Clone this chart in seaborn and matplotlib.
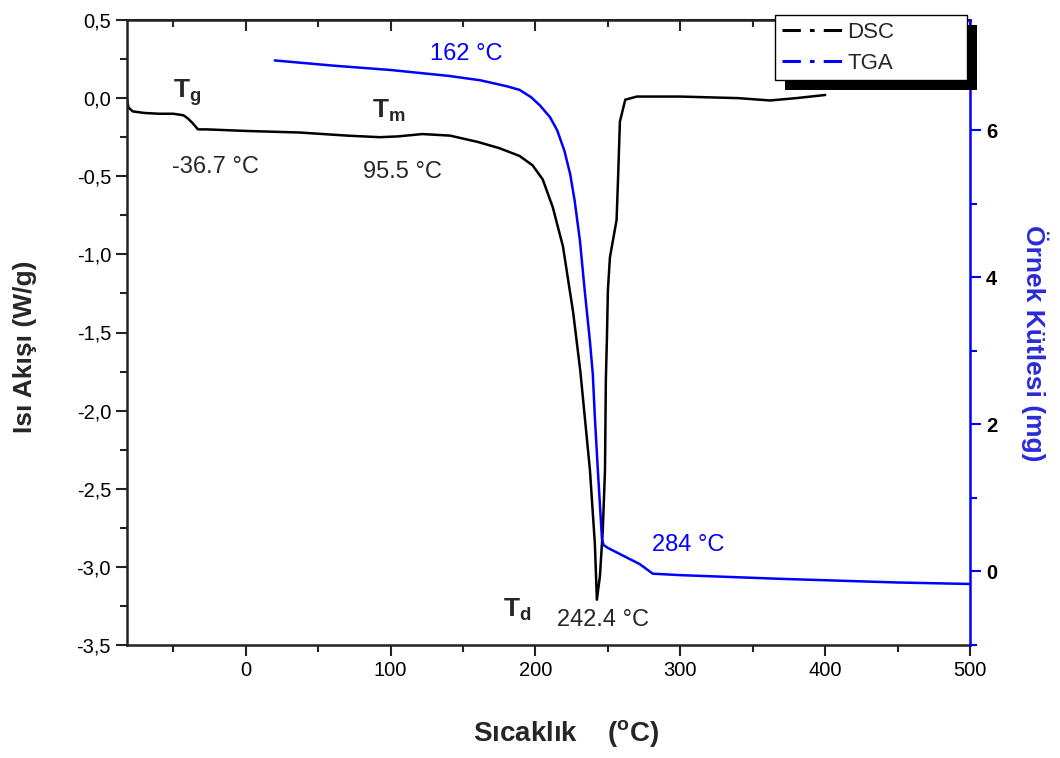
import matplotlib
matplotlib.use("Agg")
import matplotlib.pyplot as plt
import seaborn as sns
import pandas as pd
from matplotlib.ticker import MultipleLocator, FuncFormatter
from matplotlib.lines import Line2D
from matplotlib.patches import Rectangle

# ---- data ----
dsc_temp = [-83, -81, -78, -70, -60, -50, -43, -40, -36.7, -33,
            -27, 0, 37, 70, 92.5, 105, 122, 141, 160, 175,
            189, 198, 205, 212, 219, 226, 231, 237.6, 241, 242.4,
            244.5, 246.5, 248, 248.6, 249.3, 250, 251.4, 253.5, 256, 257,
            258.3, 262, 270, 300, 340, 362, 380, 400]
dsc_flow = [0.05, -0.06, -0.085, -0.095, -0.10, -0.10, -0.11, -0.13, -0.16, -0.20,
            -0.20, -0.21, -0.22, -0.24, -0.25, -0.245, -0.23, -0.24, -0.28, -0.32,
            -0.37, -0.43, -0.52, -0.70, -0.95, -1.37, -1.75, -2.38, -2.85, -3.21,
            -3.06, -2.76, -2.38, -1.80, -1.55, -1.23, -1.02, -0.91, -0.78, -0.52,
            -0.15, -0.01, 0.01, 0.01, 0.0, -0.015, 0.0, 0.02]

tga_temp = [20, 60, 100, 140, 162, 180, 189, 197, 203, 210,
            215, 220, 224, 227, 230.7, 234, 237.6, 239.6, 241, 243,
            244.5, 245.9, 247, 250, 260, 272, 281, 300, 369, 450, 500]
tga_mass = [6.95, 6.88, 6.82, 6.74, 6.68, 6.6, 6.55, 6.45, 6.34, 6.18,
            6.0, 5.72, 5.4, 5.05, 4.5, 3.82, 3.13, 2.68, 2.1, 1.4,
            0.91, 0.45, 0.36, 0.32, 0.22, 0.1, -0.03, -0.05, -0.1, -0.15, -0.17]

series_labels = ["DSC", "TGA"]
x_label = "Sıcaklık    ($^{\\mathbf{o}}$C)"
y_label_left = "Isı Akışı (W/g)"
y_label_right = "Örnek Kütlesi (mg)"

dsc_df = pd.DataFrame({"T": dsc_temp, "Q": dsc_flow})
tga_df = pd.DataFrame({"T": tga_temp, "m": tga_mass})

# ---- style ----
sns.set_style("ticks")
plt.rcParams["font.family"] = ["Liberation Sans", "DejaVu Sans"]
plt.rcParams["mathtext.fontset"] = "custom"
plt.rcParams["mathtext.rm"] = "Liberation Sans"
plt.rcParams["mathtext.bf"] = "Liberation Sans:bold"
plt.rcParams["mathtext.it"] = "Liberation Sans:italic"

BLUE = "#0000ff"
W, H = 1060, 758
fig = plt.figure(figsize=(W / 100, H / 100), dpi=100)
ax = fig.add_axes([127 / W, 1 - 645 / H, (970 - 127) / W, (645 - 20) / H])
ax2 = ax.twinx()

sns.lineplot(data=dsc_df, x="T", y="Q", ax=ax, color="black", lw=1.8,
             sort=False, estimator=None)
sns.lineplot(data=tga_df, x="T", y="m", ax=ax2, color=BLUE, lw=1.8,
             sort=False, estimator=None)

ax.set_xlim(-82, 500)
ax.set_ylim(-3.5, 0.5)
ax2.set_ylim(-1.0, 7.5)

TICK_FS = 14.5
# left / bottom axis ticks
ax.xaxis.set_major_locator(MultipleLocator(100))
ax.xaxis.set_minor_locator(MultipleLocator(50))
ax.yaxis.set_major_locator(MultipleLocator(0.5))
ax.yaxis.set_minor_locator(MultipleLocator(0.25))
ax.yaxis.set_major_formatter(FuncFormatter(lambda v, p: f"{v:.1f}".replace(".", ",").replace("\u2212", "-")))
ax.tick_params(axis="both", which="major", direction="out", length=8, width=1.5,
               labelsize=TICK_FS, colors="#222222", labelcolor="black")
ax.tick_params(axis="both", which="minor", direction="out", length=5, width=1.5,
               colors="#222222")
ax.tick_params(axis="y", which="both", right=False)
ax.tick_params(axis="x", which="both", top=False)

# top ticks (inward)
top = ax.secondary_xaxis("top")
top.xaxis.set_major_locator(MultipleLocator(100))
top.xaxis.set_minor_locator(MultipleLocator(50))
top.tick_params(which="major", direction="in", length=8, width=1.5, labeltop=False)
top.tick_params(which="minor", direction="in", length=5, width=1.5)
top.spines["top"].set_linewidth(1.5)

for s in ["left", "bottom", "top"]:
    ax.spines[s].set_linewidth(1.8)
    ax.spines[s].set_color("#222222")
ax.spines["right"].set_visible(False)

# right axis
for s in ["left", "bottom", "top"]:
    ax2.spines[s].set_visible(False)
ax2.spines["right"].set_color(BLUE)
ax2.spines["right"].set_linewidth(1.8)
ax2.yaxis.set_major_locator(MultipleLocator(2))
ax2.yaxis.set_minor_locator(MultipleLocator(1))
ax2.tick_params(axis="y", which="major", direction="out", length=8, width=1.5,
                color=BLUE, labelcolor="black", labelsize=TICK_FS)
ax2.tick_params(axis="y", which="minor", direction="out", length=5, width=1.5,
                color=BLUE)
for t in ax2.get_yticklabels():
    t.set_fontweight("bold")

# labels
ax.set_xlabel(x_label, fontsize=20, fontweight="bold")
ax.xaxis.set_label_coords((566 - 127) / 843, (645 - 718) / 625)
ax.set_ylabel(y_label_left, fontsize=19, fontweight="bold")
ax.yaxis.set_label_coords((37 - 127) / 843, (645 - 347) / 625)
ax2.set_ylabel(y_label_right, fontsize=19, fontweight="bold", color="#2a2ad8",
               rotation=270, va="center", ha="center")
ax2.yaxis.set_label_coords((1035 - 127) / 843, (645 - 343) / 625)

# annotations
fs = 17
tfs = 19
ax.text(-50.4, 0.0, r"$\mathbf{T}_{\mathbf{g}}$", fontsize=tfs, ha="left", va="baseline")
ax.text(-51.1, -0.478, "-36.7 °C", fontsize=fs, ha="left", va="baseline")
ax.text(87, -0.127, r"$\mathbf{T}_{\mathbf{m}}$", fontsize=tfs, ha="left", va="baseline")
ax.text(80.8, -0.51, "95.5 °C", fontsize=fs, ha="left", va="baseline")
ax.text(127, 0.244, "162 °C", fontsize=fs, ha="left", va="baseline", color=BLUE)
ax.text(280.4, -2.90, "284 °C", fontsize=fs, ha="left", va="baseline", color=BLUE)
ax.text(177.5, -3.32, r"$\mathbf{T}_{\mathbf{d}}$", fontsize=tfs, ha="left", va="baseline")
ax.text(214.8, -3.38, "242.4 °C", fontsize=fs, ha="left", va="baseline")

# legend with solid black drop shadow
handles = [Line2D([], [], color="black", lw=2.2, dashes=(6, 3, 1.5, 3)),
           Line2D([], [], color=BLUE, lw=2.2, dashes=(6, 3, 1.5, 3))]
leg = ax2.legend(handles, series_labels, loc="upper left",
                 bbox_to_anchor=(775 / W, 1 - 15 / H, 192 / W, 0.0001),
                 bbox_transform=fig.transFigure, mode="expand", borderaxespad=0,
                 fancybox=False, frameon=True, edgecolor="black", framealpha=1,
                 fontsize=16, handlelength=2.7, handletextpad=0.25,
                 labelspacing=0.45, borderpad=0.3)
leg.get_frame().set_linewidth(1.0)
leg.set_zorder(10)
fig.canvas.draw()
bb = leg.get_window_extent()
shadow = Rectangle((bb.x0 + 10, bb.y0 - 10), bb.width, bb.height, transform=None,
                   facecolor="black", edgecolor="none", zorder=9)
ax2.add_artist(shadow)
shadow.set_clip_on(False)

fig.savefig("out.png", dpi=100)
